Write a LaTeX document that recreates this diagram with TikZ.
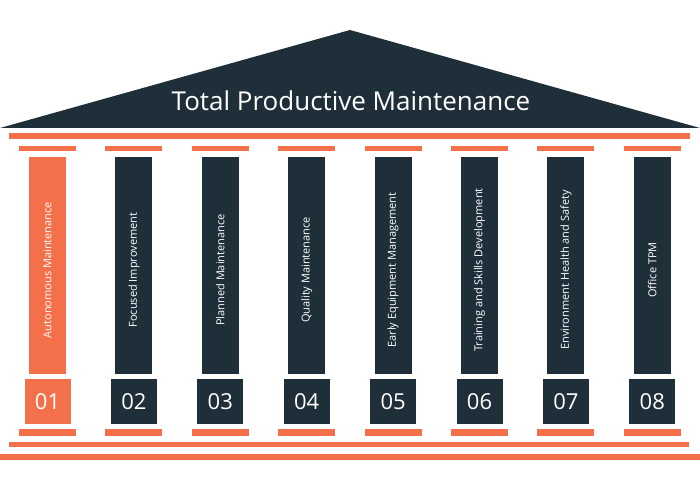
\documentclass[tikz,border=0pt]{standalone}
\usepackage{fontspec}
\setmainfont{Open Sans}
\definecolor{tpmorange}{HTML}{F4704A}
\definecolor{tpmdark}{HTML}{1F2F3A}
\begin{document}
\begin{tikzpicture}[x=1pt,y=-1pt,
  orangebar/.style={fill=tpmorange,draw=none},
  shaft/.style={fill=tpmdark,draw=none,minimum width=37pt,minimum height=217pt,inner sep=0pt},
  numbox/.style={fill=tpmdark,draw=none,minimum width=46pt,minimum height=45pt,inner sep=0pt,text=white,font=\fontsize{22}{24}\selectfont},
  plabel/.style={rotate=90,text=white,font=\fontsize{11}{12}\selectfont,inner sep=0pt}]
\useasboundingbox (0,0) rectangle (700,489);
% roof
\fill[tpmdark] (0,128) -- (350,30) -- (700,128) -- cycle;
\node[text=white,font=\fontsize{26}{30}\selectfont] (title) at (351,101) {Total Productive Maintenance};
% top bar and base bars
\fill[orangebar] (9,133) rectangle (690,139);
\fill[orangebar] (9,442) rectangle (689,447);
\fill[orangebar] (0,454) rectangle (700,460);
\foreach \i/\lab [count=\n] in {1/Autonomous Maintenance,2/Focused Improvement,3/Planned Maintenance,4/Quality Maintenance,5/Early Equipment Management,6/Training and Skills Development,7/Environment Health and Safety,8/Office TPM}{
  \pgfmathsetmacro{\cx}{47.5+86.4*(\i-1)}
  \fill[orangebar] (\cx-28.5,146) rectangle (\cx+28.5,151);
  \fill[orangebar] (\cx-28.5,429) rectangle (\cx+28.5,436);
  \ifnum\i=1
    \node[shaft,fill=tpmorange] (s\i) at (\cx,265.5) {};
    \node[numbox,fill=tpmorange] (n\i) at (\cx,401.5) {0\i};
  \else
    \node[shaft] (s\i) at (\cx,265.5) {};
    \node[numbox] (n\i) at (\cx,401.5) {0\i};
  \fi
  \node[plabel] (l\i) at (\cx,270) {\lab};
}
\end{tikzpicture}
\end{document}
